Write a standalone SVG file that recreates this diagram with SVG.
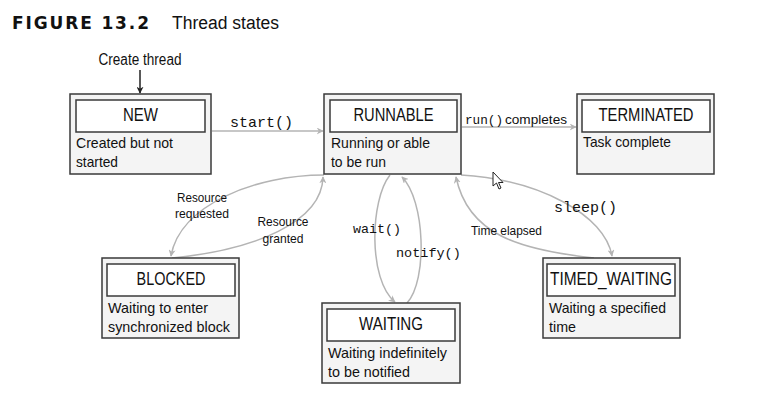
<svg xmlns="http://www.w3.org/2000/svg" width="758" height="402" viewBox="0 0 758 402">
<style>
.outer{fill:#f4f4f4;stroke:#3a3a3a;stroke-width:1.5}
.inner{fill:#fff;stroke:#3a3a3a;stroke-width:1.5}
.t{font-family:"Liberation Sans Narrow","Liberation Sans",Arial,sans-serif;fill:#111}
.title{font-size:19px;text-anchor:middle}
.desc{font-size:15px}
.lbl{font-size:13.5px}
.mono{font-family:"Liberation Mono","Courier New",monospace;fill:#111}
.conn{fill:none;stroke:#b4b4b4;stroke-width:1.5}
</style>
<defs>
<marker id="ah" viewBox="0 0 10 10" refX="9" refY="5" markerWidth="7" markerHeight="7" orient="auto" markerUnits="userSpaceOnUse">
<path d="M0,0 L10,5 L0,10 L3,5 z" fill="#b4b4b4"/>
</marker>
<marker id="ahb" viewBox="0 0 10 10" refX="9" refY="5" markerWidth="7" markerHeight="7" orient="auto" markerUnits="userSpaceOnUse">
<path d="M0,0 L10,5 L0,10 L3,5 z" fill="#222"/>
</marker>
</defs>

<text x="12" y="29" textLength="137" lengthAdjust="spacing" style="font-family:'DejaVu Sans',Arial,sans-serif;font-weight:bold;font-size:17px;fill:#111">FIGURE 13.2</text>
<text x="172" y="29" class="t" style="font-size:18px" textLength="107" lengthAdjust="spacingAndGlyphs">Thread states</text>

<g id="connectors">
<text x="140" y="65" class="t" style="font-size:16px;text-anchor:middle" textLength="83" lengthAdjust="spacingAndGlyphs">Create thread</text>
<line x1="140" y1="70" x2="140" y2="93" stroke="#222" stroke-width="1.5" marker-end="url(#ahb)"/>

<line x1="212" y1="131" x2="323" y2="131" class="conn" marker-end="url(#ah)"/>
<text x="230" y="127" class="mono" style="font-size:15px">start()</text>

<line x1="462" y1="127" x2="576" y2="127" class="conn" marker-end="url(#ah)"/>
<text x="465" y="124" class="mono" style="font-size:12.7px">run()</text>
<text x="505" y="124" class="t lbl" textLength="62" lengthAdjust="spacingAndGlyphs">completes</text>

<path d="M324,175 C255,175 180,205 171,256" class="conn" marker-end="url(#ah)"/>
<path d="M172,258 C255,250 322,222 323,177" class="conn" marker-end="url(#ah)"/>
<text x="202" y="202" class="t lbl" text-anchor="middle" textLength="50" lengthAdjust="spacingAndGlyphs">Resource</text>
<text x="202" y="218" class="t lbl" text-anchor="middle" textLength="54" lengthAdjust="spacingAndGlyphs">requested</text>
<text x="283" y="226" class="t lbl" text-anchor="middle" textLength="51" lengthAdjust="spacingAndGlyphs">Resource</text>
<text x="283" y="243" class="t lbl" text-anchor="middle" textLength="41" lengthAdjust="spacingAndGlyphs">granted</text>

<path d="M390,175 C370,200 368,280 395,302" class="conn" marker-end="url(#ah)"/>
<path d="M407,303 C428,280 425,200 402,177" class="conn" marker-end="url(#ah)"/>
<text x="353" y="233" class="mono" style="font-size:13.3px">wait()</text>
<text x="396" y="257" class="mono" style="font-size:13.5px">notify()</text>

<path d="M461,175 C540,180 605,215 612,256" class="conn" marker-end="url(#ah)"/>
<path d="M594,258 C520,250 468,235 456,177" class="conn" marker-end="url(#ah)"/>
<text x="554" y="212" class="mono" style="font-size:15px">sleep()</text>
<text x="471" y="235" class="t lbl" textLength="71" lengthAdjust="spacingAndGlyphs">Time elapsed</text>
</g>

<g id="new">
<rect x="70" y="94" width="141" height="80" class="outer"/>
<rect x="76" y="100" width="129" height="32" class="inner"/>
<text x="140.5" y="121" class="t title" textLength="35" lengthAdjust="spacingAndGlyphs">NEW</text>
<text x="76" y="148" class="t desc" textLength="97" lengthAdjust="spacingAndGlyphs">Created but not</text>
<text x="76" y="167" class="t desc" textLength="42" lengthAdjust="spacingAndGlyphs">started</text>
</g>

<g id="runnable">
<rect x="324" y="94" width="137" height="80" class="outer"/>
<rect x="330" y="100" width="127" height="32" class="inner"/>
<text x="393.5" y="121" class="t title" textLength="80" lengthAdjust="spacingAndGlyphs">RUNNABLE</text>
<text x="331" y="148" class="t desc" textLength="99" lengthAdjust="spacingAndGlyphs">Running or able</text>
<text x="331" y="167" class="t desc" textLength="55" lengthAdjust="spacingAndGlyphs">to be run</text>
</g>

<g id="terminated">
<rect x="577" y="94" width="137" height="80" class="outer"/>
<rect x="582" y="100" width="128" height="32" class="inner"/>
<text x="646" y="121" class="t title" textLength="95" lengthAdjust="spacingAndGlyphs">TERMINATED</text>
<text x="583" y="147" class="t desc" textLength="88" lengthAdjust="spacingAndGlyphs">Task complete</text>
</g>

<g id="blocked">
<rect x="102" y="258" width="137" height="80" class="outer"/>
<rect x="107" y="264" width="128" height="32" class="inner"/>
<text x="171" y="285" class="t title" textLength="69" lengthAdjust="spacingAndGlyphs">BLOCKED</text>
<text x="108" y="313" class="t desc" textLength="100" lengthAdjust="spacingAndGlyphs">Waiting to enter</text>
<text x="108" y="332" class="t desc" textLength="122" lengthAdjust="spacingAndGlyphs">synchronized block</text>
</g>

<g id="waiting">
<rect x="322" y="303" width="138" height="80" class="outer"/>
<rect x="327" y="309" width="128" height="32" class="inner"/>
<text x="391" y="330" class="t title" textLength="64" lengthAdjust="spacingAndGlyphs">WAITING</text>
<text x="328" y="358" class="t desc" textLength="119" lengthAdjust="spacingAndGlyphs">Waiting indefinitely</text>
<text x="328" y="377" class="t desc" textLength="82" lengthAdjust="spacingAndGlyphs">to be notified</text>
</g>

<g id="timed_waiting">
<rect x="543" y="258" width="137" height="80" class="outer"/>
<rect x="547" y="264" width="128" height="32" class="inner"/>
<text x="611" y="285" class="t title" textLength="122" lengthAdjust="spacingAndGlyphs">TIMED_WAITING</text>
<text x="549" y="313" class="t desc" textLength="117" lengthAdjust="spacingAndGlyphs">Waiting a specified</text>
<text x="549" y="332" class="t desc" textLength="27" lengthAdjust="spacingAndGlyphs">time</text>
</g>

<path d="M493,172 L493,186 L496.5,183 L499,189 L501,188 L498.5,182.5 L503,182.5 z" fill="#fff" stroke="#222" stroke-width="1"/>
</svg>
